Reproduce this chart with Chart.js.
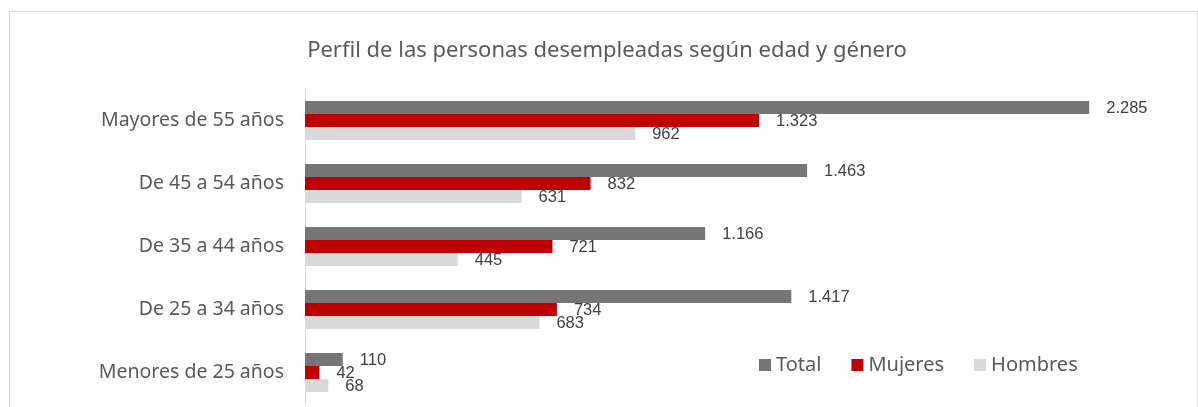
<!DOCTYPE html>
<html>
<head>
<meta charset="utf-8">
<script src="https://cdn.jsdelivr.net/npm/chart.js@4"></script>
<style>
  html, body { margin: 0; padding: 0; background: #fff; }
  #wrap { width: 1198px; height: 407px; }
</style>
</head>
<body>
<div id="wrap"><canvas id="chart" width="1198" height="407"></canvas></div>
<script>
// data \/
const categories = ['Mayores de 55 años', 'De 45 a 54 años', 'De 35 a 44 años', 'De 25 a 34 años', 'Menores de 25 años'];
const seriesNames = ['Total', 'Mujeres', 'Hombres'];
const total = [2285, 1463, 1166, 1417, 110];
const mujeres = [1323, 832, 721, 734, 42];
const hombres = [962, 631, 445, 683, 68];
const chartTitle = 'Perfil de las personas desempleadas según edad y género';
// data /\

const colors = ['#767676', '#C00000', '#D9D9D9'];
const textColor = '#595959';
const mainFont = '"Noto Sans", sans-serif';

// 2285 -> "2.285"
function fmt(v) {
    return String(v).replace(/\B(?=(\d{3})+(?!\d))/g, '.');
}

// frame + title \/
const framePlugin = {
    id: 'frame',
    beforeDraw(chart) {
        let ctx = chart.ctx;
        ctx.save();
        ctx.fillStyle = '#fff';
        ctx.fillRect(0, 0, chart.width, chart.height);
        ctx.strokeStyle = '#D9D9D9';
        ctx.lineWidth = 1;
        ctx.strokeRect(9.5, 11.5, 1188, 420);
        ctx.fillStyle = textColor;
        ctx.font = '22px ' + mainFont;
        ctx.textAlign = 'center';
        ctx.textBaseline = 'middle';
        ctx.fillText(chartTitle, 607, 51);
        ctx.restore();
    }
};
// frame + title /\

// value labels next to each bar \/
const labelPlugin = {
    id: 'valueLabels',
    afterDatasetsDraw(chart) {
        let ctx = chart.ctx;
        ctx.save();
        ctx.fillStyle = '#404040';
        ctx.font = '16.5px "Liberation Sans", Arial, sans-serif';
        ctx.textAlign = 'left';
        ctx.textBaseline = 'middle';
        chart.data.datasets.forEach((ds, i) => {
            chart.getDatasetMeta(i).data.forEach((bar, j) => {
                ctx.fillText(fmt(ds.data[j]), bar.x + 17, bar.y + 1);
            });
        });
        ctx.restore();
    }
};
// value labels /\

// legend inside the plot, bottom right \/
const legendPlugin = {
    id: 'innerLegend',
    afterDraw(chart) {
        let ctx = chart.ctx;
        ctx.save();
        ctx.font = '20px ' + mainFont;
        ctx.textBaseline = 'middle';
        ctx.textAlign = 'left';
        let x = 759;
        let y = 365;
        chart.data.datasets.forEach(ds => {
            ctx.fillStyle = ds.backgroundColor;
            ctx.fillRect(x, y - 6, 12, 12);
            ctx.fillStyle = textColor;
            ctx.fillText(ds.label, x + 17, y);
            x += 17 + ctx.measureText(ds.label).width + 30;
        });
        ctx.restore();
    }
};
// legend /\

const series = [total, mujeres, hombres];

new Chart(document.getElementById('chart'), {
    type: 'bar',
    data: {
        labels: categories,
        datasets: seriesNames.map((name, i) => ({
            label: name,
            data: series[i],
            backgroundColor: colors[i],
            borderWidth: 0,
            barPercentage: 1,
            categoryPercentage: 0.62
        }))
    },
    options: {
        indexAxis: 'y',
        responsive: false,
        animation: false,
        layout: {
            padding: { left: 10, right: 35, top: 89, bottom: 3 }
        },
        plugins: {
            legend: { display: false },
            title: { display: false },
            tooltip: { enabled: false }
        },
        scales: {
            x: {
                display: false,
                min: 0,
                max: 2500
            },
            y: {
                grid: { display: false, drawTicks: false },
                border: { display: true, color: '#D9D9D9', width: 1 },
                ticks: {
                    color: textColor,
                    font: { family: mainFont, size: 19.5 },
                    padding: 21
                },
                afterFit(scale) {
                    scale.width = 295;
                    // tick padding should not shrink the plot vertically
                    scale.paddingTop = 0;
                    scale.paddingBottom = 0;
                }
            }
        }
    },
    plugins: [framePlugin, labelPlugin, legendPlugin]
});
</script>
</body>
</html>
